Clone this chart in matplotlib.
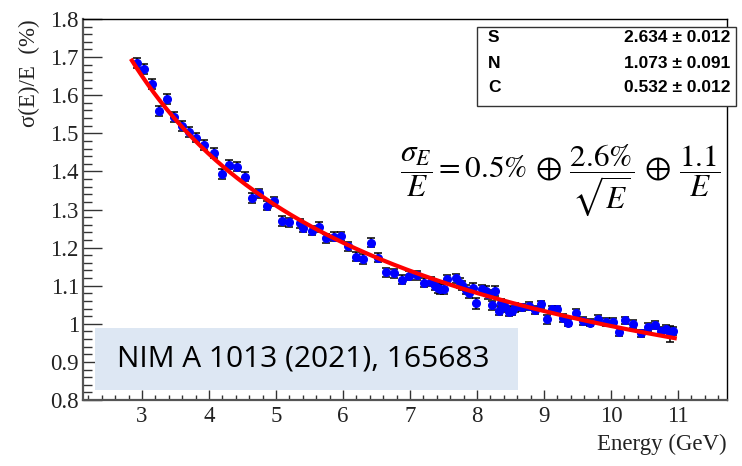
import numpy as np
import matplotlib
matplotlib.use("Agg")
import matplotlib.pyplot as plt
from matplotlib.ticker import MultipleLocator

plt.rcParams['font.family'] = 'Liberation Serif'
plt.rcParams['mathtext.fontset'] = 'stix'

# measured points (energy in GeV, resolution in %)
energy = [2.92, 3.03, 3.15, 3.25, 3.37, 3.48, 3.59, 3.70, 3.81, 3.93,
          4.07, 4.19, 4.30, 4.42, 4.53, 4.64, 4.75, 4.86, 4.97, 5.09,
          5.19, 5.36, 5.41, 5.53, 5.64, 5.75, 5.86, 5.97, 6.08, 6.19,
          6.30, 6.41, 6.52, 6.64, 6.76, 6.88, 6.99, 7.10, 7.21, 7.32,
          7.37, 7.42, 7.45, 7.50, 7.55, 7.69, 7.74, 7.78, 7.83, 7.88,
          7.94, 7.99, 8.08, 8.13, 8.16, 8.22, 8.27, 8.32, 8.36, 8.42,
          8.47, 8.52, 8.57, 8.67, 8.78, 8.87, 8.95, 9.04, 9.12, 9.20,
          9.28, 9.36, 9.48, 9.58, 9.69, 9.81, 9.92, 10.03, 10.12, 10.21,
          10.33, 10.45, 10.55, 10.65, 10.74, 10.82, 10.88, 10.93]
resolution = [1.685, 1.669, 1.629, 1.559, 1.589, 1.542, 1.520, 1.503, 1.488, 1.469,
              1.448, 1.393, 1.418, 1.412, 1.386, 1.331, 1.343, 1.310, 1.322, 1.270,
              1.267, 1.264, 1.252, 1.244, 1.254, 1.224, 1.229, 1.230, 1.204, 1.176,
              1.170, 1.213, 1.173, 1.135, 1.133, 1.116, 1.126, 1.127, 1.108, 1.110,
              1.100, 1.093, 1.091, 1.091, 1.117, 1.120, 1.107, 1.101, 1.090, 1.080,
              1.094, 1.054, 1.091, 1.087, 1.077, 1.049, 1.086, 1.034, 1.054, 1.043,
              1.032, 1.034, 1.043, 1.043, 1.047, 1.036, 1.051, 1.012, 1.038, 1.038,
              1.015, 1.003, 1.028, 1.008, 1.003, 1.013, 1.005, 1.006, 0.978, 1.009,
              1.000, 0.975, 0.991, 0.997, 0.981, 0.986, 0.972, 0.981]
res_err = [0.013, 0.014, 0.013, 0.014, 0.013, 0.013, 0.013, 0.013, 0.012, 0.013,
           0.013, 0.013, 0.012, 0.012, 0.012, 0.013, 0.012, 0.012, 0.012, 0.012,
           0.012, 0.012, 0.012, 0.012, 0.012, 0.012, 0.012, 0.012, 0.012, 0.012,
           0.012, 0.012, 0.012, 0.012, 0.012, 0.012, 0.012, 0.012, 0.012, 0.012,
           0.012, 0.013, 0.013, 0.013, 0.012, 0.012, 0.012, 0.012, 0.013, 0.012,
           0.012, 0.014, 0.012, 0.012, 0.012, 0.012, 0.012, 0.012, 0.012, 0.012,
           0.012, 0.012, 0.012, 0.010, 0.010, 0.010, 0.010, 0.012, 0.010, 0.010,
           0.010, 0.010, 0.010, 0.010, 0.010, 0.010, 0.010, 0.010, 0.010, 0.010,
           0.010, 0.010, 0.010, 0.010, 0.010, 0.010, 0.021, 0.010]

# axis ticks
x_ticks = [3, 4, 5, 6, 7, 8, 9, 10, 11]
y_ticks = [0.8, 0.9, 1.0, 1.1, 1.2, 1.3, 1.4, 1.5, 1.6, 1.7, 1.8]

# fit parameters shown in the stat box
par_names = ["S", "N", "C"]
par_values = [2.634, 1.073, 0.532]
par_errors = [0.012, 0.091, 0.012]
fit_range = (2.85, 10.95)

fig = plt.figure(figsize=(7.42, 4.66), dpi=100)
ax = fig.add_axes([0.1119, 0.1416, 0.8679, 0.8176])

S, N, C = par_values
e_fit = np.linspace(fit_range[0], fit_range[1], 300)
res_fit = np.sqrt(S**2 / e_fit + N**2 / e_fit**2 + C**2)

ax.errorbar(energy, resolution, yerr=res_err, fmt='o', color='#0000ff',
            markersize=5.5, ecolor='black', elinewidth=1.1, capsize=3.0,
            capthick=1.1, zorder=3)
ax.plot(e_fit, res_fit, color='#ff0000', lw=3.0, zorder=4)

ax.set_xlim(2.12, 11.73)
ax.set_ylim(0.8, 1.8)

tick_font = dict(fontfamily='Liberation Serif', fontsize=16.5, color='#222222')
ax.set_xticks(x_ticks, labels=[f"{t:g}" for t in x_ticks], **tick_font)
ax.set_yticks(y_ticks, labels=[f"{t:g}" for t in y_ticks], **tick_font)
ax.xaxis.set_minor_locator(MultipleLocator(0.2))
ax.yaxis.set_minor_locator(MultipleLocator(0.02))
ax.tick_params(axis='y', which='major', direction='in', length=13.5, width=1.0,
               color='#333333', pad=3)
ax.tick_params(axis='y', which='minor', direction='in', length=6.5, width=1.0,
               color='#333333')
ax.tick_params(axis='x', which='major', direction='in', length=7.2, width=1.0,
               color='#333333', pad=4)
ax.tick_params(axis='x', which='minor', direction='in', length=3.6, width=1.0,
               color='#333333')

for side in ['left', 'bottom']:
    ax.spines[side].set_linewidth(1.6)
    ax.spines[side].set_color('#555555')
for side in ['top', 'right']:
    ax.spines[side].set_linewidth(1.0)
    ax.spines[side].set_color('black')

ax.set_xlabel('Energy (GeV)', fontsize=16.5, color='#222222')
ax.xaxis.set_label_coords(1.0, -0.09)
ax.xaxis.label.set_horizontalalignment('right')
ax.set_ylabel('σ(E)/E  (%)', fontsize=16.5, color='#222222')
ax.yaxis.set_label_coords(-0.066, 1.0)
ax.yaxis.label.set_horizontalalignment('right')

# stat box with the fit parameters
box = plt.Rectangle((477 / 742, 1 - 106 / 466), 259 / 742, 79 / 466,
                    transform=fig.transFigure, facecolor='white',
                    edgecolor='#333333', lw=1.0, zorder=5)
fig.patches.append(box)
for i, (nm, v, er) in enumerate(zip(par_names, par_values, par_errors)):
    yy = 1 - (38 + 25 * i) / 466
    fig.text(488 / 742, yy, nm, ha='left', va='center', fontsize=12.5,
             fontweight='bold', fontfamily='Liberation Sans', zorder=6)
    fig.text(730 / 742, yy, f"{v:.3f} ± {er:.3f}", ha='right', va='center',
             fontsize=12.5, fontweight='bold', fontfamily='Liberation Sans', zorder=6)

# resolution formula
fig.text(560 / 742, 1 - 180 / 466,
         r'$\dfrac{\sigma_E}{E} = 0.5\%\,\oplus\,\dfrac{2.6\%}{\sqrt{E}}\,\oplus\,\dfrac{1.1}{E}$',
         ha='center', va='center', fontsize=22.5)

# reference label
ref_box = plt.Rectangle((95 / 742, 1 - 390 / 466), 423 / 742, 62 / 466,
                        transform=fig.transFigure, facecolor='#dde7f3',
                        edgecolor='none', zorder=5)
fig.patches.append(ref_box)
fig.text(303 / 742, 1 - 359 / 466, 'NIM A 1013 (2021), 165683', ha='center',
         va='center', fontsize=21.5, fontfamily='Open Sans', zorder=6)

fig.savefig('out.png', dpi=100)
